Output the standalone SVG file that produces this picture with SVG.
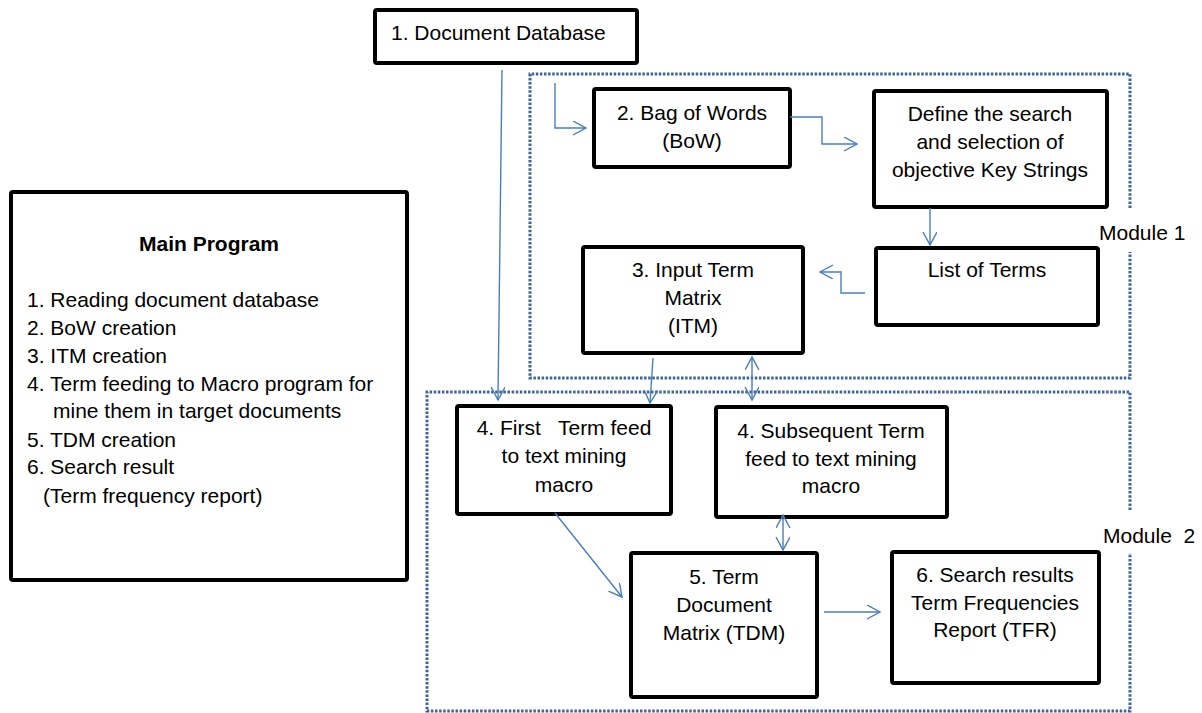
<svg xmlns="http://www.w3.org/2000/svg" width="1202" height="713" viewBox="0 0 1202 713">
<style>
.box{fill:#fff;stroke:#000;stroke-width:4}
.t{font-family:"Liberation Sans",Arial,sans-serif;font-size:21px;fill:#000}
.c{text-anchor:middle}
.b{font-weight:bold}
.con{fill:none;stroke:#4a7ebb;stroke-width:1.4}
.dot{fill:none;stroke:#3e6498;stroke-width:3;stroke-dasharray:2.5 1.6}
</style>
<defs>
<marker id="ah" markerUnits="userSpaceOnUse" markerWidth="16" markerHeight="16" refX="13" refY="7" orient="auto-start-reverse">
<path d="M0,0 L13,7 L0,14" fill="none" stroke="#4a7ebb" stroke-width="1.4"/>
</marker>
</defs>
<rect width="1202" height="713" fill="#fff"/>
<g id="modules">
<path class="dot" d="M1130,208 V74 H530 V378 H1130 V252"/>
<path class="dot" d="M1130,510 V392 H427 V711 H1130 V553"/>
<text class="t" x="1099" y="240">Module 1</text>
<text class="t" x="1103" y="543" xml:space="preserve">Module  2</text>
</g>
<g id="main-program">
<rect class="box" x="11" y="192" width="396" height="388" rx="2"/>
<text class="t c b" x="209" y="251">Main Program</text>
<text class="t" x="27" y="307">1. Reading document database</text>
<text class="t" x="27" y="335">2. BoW creation</text>
<text class="t" x="27" y="363">3. ITM creation</text>
<text class="t" x="27" y="391">4. Term feeding to Macro program for</text>
<text class="t" x="53" y="418">mine them in target documents</text>
<text class="t" x="27" y="447">5. TDM creation</text>
<text class="t" x="27" y="474">6. Search result</text>
<text class="t" x="43" y="503">(Term frequency report)</text>
</g>
<g id="doc-db">
<rect class="box" x="375" y="10" width="262" height="53" rx="2"/>
<text class="t" x="391" y="40">1. Document Database</text>
</g>
<g id="bow">
<rect class="box" x="594" y="89" width="196" height="78" rx="2"/>
<text class="t c" x="692" y="120">2. Bag of Words</text>
<text class="t c" x="692" y="148">(BoW)</text>
</g>
<g id="define">
<rect class="box" x="874" y="91" width="233" height="116" rx="2"/>
<text class="t c" x="990" y="121">Define the search</text>
<text class="t c" x="990" y="149">and selection of</text>
<text class="t c" x="990" y="177">objective Key Strings</text>
</g>
<g id="list">
<rect class="box" x="876" y="248" width="222" height="77" rx="2"/>
<text class="t c" x="987" y="277">List of Terms</text>
</g>
<g id="itm">
<rect class="box" x="583" y="247" width="220" height="106" rx="2"/>
<text class="t c" x="693" y="277">3. Input Term</text>
<text class="t c" x="693" y="305">Matrix</text>
<text class="t c" x="693" y="333">(ITM)</text>
</g>
<g id="first-feed">
<rect class="box" x="457" y="406" width="214" height="108" rx="2"/>
<text class="t c" x="564" y="435" xml:space="preserve">4. First   Term feed</text>
<text class="t c" x="564" y="463">to text mining</text>
<text class="t c" x="564" y="492">macro</text>
</g>
<g id="subsequent-feed">
<rect class="box" x="716" y="407" width="231" height="110" rx="2"/>
<text class="t c" x="831" y="438">4. Subsequent Term</text>
<text class="t c" x="831" y="466">feed to text mining</text>
<text class="t c" x="831" y="493">macro</text>
</g>
<g id="tdm">
<rect class="box" x="631" y="553" width="186" height="144" rx="2"/>
<text class="t c" x="724" y="584">5. Term</text>
<text class="t c" x="724" y="612">Document</text>
<text class="t c" x="724" y="640">Matrix (TDM)</text>
</g>
<g id="tfr">
<rect class="box" x="892" y="552" width="207" height="131" rx="2"/>
<text class="t c" x="995" y="582">6. Search results</text>
<text class="t c" x="995" y="610">Term Frequencies</text>
<text class="t c" x="995" y="637">Report (TFR)</text>
</g>
<g id="connectors">
<path class="con" d="M502,70 L498,400" marker-end="url(#ah)"/>
<path class="con" d="M555,83 V128 H586" marker-end="url(#ah)"/>
<path class="con" d="M790,117 H822 V144 H857" marker-end="url(#ah)"/>
<path class="con" d="M930,208 V245" marker-end="url(#ah)"/>
<path class="con" d="M865,293 H841 V272 H820" marker-end="url(#ah)"/>
<path class="con" d="M653,358 L650,403" marker-end="url(#ah)"/>
<path class="con" d="M752,357 V400" marker-start="url(#ah)" marker-end="url(#ah)"/>
<path class="con" d="M783,515 V550" marker-start="url(#ah)" marker-end="url(#ah)"/>
<path class="con" d="M555,513 L622,597" marker-end="url(#ah)"/>
<path class="con" d="M824,612 H880" marker-end="url(#ah)"/>
</g>
</svg>
